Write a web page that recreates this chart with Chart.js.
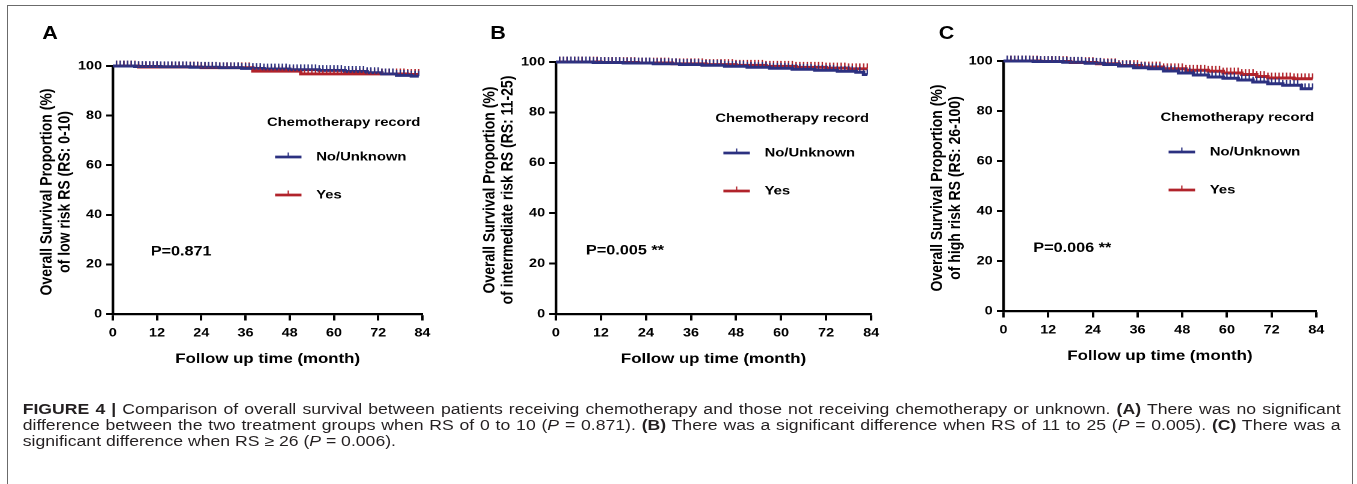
<!DOCTYPE html>
<html>
<head>
<meta charset="utf-8">
<script src="https://cdn.jsdelivr.net/npm/chart.js@4.4.1/dist/chart.umd.min.js"></script>
<style>
html,body{margin:0;padding:0;background:#fff;width:1357px;height:484px;overflow:hidden;}
#frame{position:absolute;left:7px;top:5px;width:1346px;height:560px;border:1.5px solid #6b6b6b;box-sizing:border-box;}
#fig{position:absolute;left:0;top:0;width:1130.83px;height:484px;transform:scaleX(1.2);transform-origin:0 0;font-family:"Liberation Sans",Arial,Helvetica,sans-serif;}
.pc{position:absolute;top:0;}
.letter{position:absolute;font-weight:bold;font-size:18px;line-height:18px;color:#000;transform:translate(-50%,-50%);z-index:5;}
#caption{position:absolute;left:18.9px;top:400.5px;width:1098.3px;font-size:14.7px;line-height:16.3px;color:#231f20;}
#caption .j{text-align:justify;text-align-last:justify;}
#caption b{font-weight:bold;}
</style>
</head>
<body>
<div id="frame"></div>
<div id="fig">
  <div class="letter" id="LA" style="left:41.7px;top:33px;"></div>
  <div class="letter" id="LB" style="left:415px;top:33px;"></div>
  <div class="letter" id="LC" style="left:788.9px;top:33px;"></div>
  <canvas id="cA" class="pc"></canvas>
  <canvas id="cB" class="pc"></canvas>
  <canvas id="cC" class="pc"></canvas>
  <div id="caption">
    <div class="j"><b>FIGURE 4 |</b> Comparison of overall survival between patients receiving chemotherapy and those not receiving chemotherapy or unknown. <b>(A)</b> There was no significant</div>
    <div class="j">difference between the two treatment groups when RS of 0 to 10 (<i>P</i> = 0.871). <b>(B)</b> There was a significant difference when RS of 11 to 25 (<i>P</i> = 0.005). <b>(C)</b> There was a</div>
    <div>significant difference when RS ≥ 26 (<i>P</i> = 0.006).</div>
  </div>
</div>
<script>
// ---------------- data ----------------
const months = [0,1,2,3,4,5,6,7,8,9,10,11,12,13,14,15,16,17,18,19,20,21,22,23,24,25,26,27,28,29,
30,31,32,33,34,35,36,37,38,39,40,41,42,43,44,45,46,47,48,49,50,51,52,53,54,55,56,57,58,59,
60,61,62,63,64,65,66,67,68,69,70,71,72,73,74,75,76,77,78,79,80,81,82,83];
const xTicks = [0,12,24,36,48,60,72,84];
const yTicks = [0,20,40,60,80,100];
const seriesNames = ['No/Unknown','Yes'];
const legendTitle = 'Chemotherapy record';
const panelLetters = ['A','B','C'];
const xTitle = 'Follow up time (month)';
const yTitles = [
  ['Overall Survival Proportion (%)','of low risk RS (RS: 0-10)'],
  ['Overall Survival Proportion (%)','of intermediate risk RS (RS: 11-25)'],
  ['Overall Survival Proportion (%)','of high risk RS (RS: 26-100)']
];
const pLabels = ['P=0.871','P=0.005 **','P=0.006 **'];

// Panel A (RS 0-10)
const aNoUnknown = [
100,100,100,100,100,100,
99.8,99.8,99.8,99.8,99.8,99.8,99.8,
99.7,99.7,99.7,99.7,99.7,99.7,99.7,99.7,
99.5,99.5,99.5,99.5,99.5,99.5,99.5,99.5,
99.3,99.3,99.3,99.3,99.3,99.3,
99.0,99.0,99.0,99.0,99.0,99.0,
98.8,98.8,98.8,98.8,98.8,98.8,98.8,
98.5,98.5,98.5,98.5,98.5,98.5,98.5,98.5,
98.2,98.2,98.2,98.2,98.2,98.2,98.2,
97.8,97.8,97.8,97.8,97.8,97.8,
97.3,97.3,97.3,97.3,
96.8,96.8,96.8,96.8,
96.2,96.2,96.2,96.2,
95.9,95.9,95.9];
const aYes = [
100,100,100,100,100,100,100,
99.6,99.6,99.6,99.6,99.6,99.6,99.6,99.6,99.6,99.6,99.6,99.6,99.6,99.6,99.6,99.6,99.6,
99.3,99.3,99.3,99.3,99.3,99.3,99.3,99.3,99.3,99.3,99.3,99.3,99.3,99.3,
97.9,97.9,97.9,97.9,97.9,97.9,97.9,97.9,97.9,97.9,97.9,97.9,97.9,
96.8,96.8,96.8,96.8,96.8,96.8,96.8,96.8,96.8,96.8,96.8,96.8,96.8,96.8,96.8,
96.8,96.8,96.8,96.8,96.8,96.8,96.8,96.8,96.8,96.8,96.8,96.8,96.8,96.8,
96.6,96.6,96.6,96.6];

// Panel B (RS 11-25)
const bNoUnknown = [
100,100,100,100,100,100,100,100,100,100,
99.8,99.8,99.8,99.8,99.8,99.8,99.8,99.8,
99.6,99.6,99.6,99.6,99.6,99.6,99.6,99.6,
99.3,99.3,99.3,99.3,99.3,99.3,99.3,
99.0,99.0,99.0,99.0,99.0,99.0,
98.7,98.7,98.7,98.7,98.7,98.7,
98.3,98.3,98.3,98.3,98.3,98.3,
97.9,97.9,97.9,97.9,97.9,97.9,
97.5,97.5,97.5,97.5,97.5,97.5,
97.1,97.1,97.1,97.1,97.1,97.1,
96.7,96.7,96.7,96.7,96.7,96.7,
96.3,96.3,96.3,96.3,96.3,
95.9,95.9,
95.0,95.0];
const bYes = [
100,100,100,100,100,100,100,100,100,100,100,100,
99.8,99.8,99.8,99.8,99.8,99.8,99.8,99.8,99.8,99.8,
99.6,99.6,99.6,99.6,99.6,99.6,99.6,99.6,99.6,
99.3,99.3,99.3,99.3,99.3,99.3,99.3,99.3,99.3,
99.0,99.0,99.0,99.0,99.0,99.0,99.0,99.0,
98.7,98.7,98.7,98.7,98.7,98.7,98.7,98.7,
98.3,98.3,98.3,98.3,98.3,98.3,98.3,98.3,
97.9,97.9,97.9,97.9,97.9,97.9,97.9,97.9,
97.6,97.6,97.6,97.6,97.6,97.6,
97.3,97.3,97.3,97.3,97.3,97.3];

// Panel C (RS 26-100)
const cNoUnknown = [
100,100,100,100,100,100,100,100,
99.8,99.8,99.8,99.8,99.8,99.8,99.8,99.8,
99.5,99.5,99.5,99.5,99.5,99.5,
99.1,99.1,99.1,99.1,99.1,
98.6,98.6,98.6,98.6,
98.0,98.0,98.0,98.0,
97.3,97.3,97.3,97.3,
96.9,96.9,96.9,96.9,
96.0,96.0,96.0,96.0,
95.2,95.2,95.2,95.2,
94.4,94.4,94.4,94.4,
93.6,93.6,93.6,93.6,
93.1,93.1,93.1,93.1,
92.4,92.4,92.4,92.4,
91.6,91.6,91.6,91.6,
90.9,90.9,90.9,90.9,
90.3,90.3,90.3,90.3,90.3,
88.9,88.9,88.9,88.9];
const cYes = [
100,100,100,100,100,100,100,100,100,100,
99.8,99.8,99.8,99.8,99.8,99.8,99.8,99.8,
99.4,99.4,99.4,99.4,99.4,99.4,99.4,
98.9,98.9,98.9,98.9,98.9,98.9,
98.2,98.2,98.2,98.2,98.2,98.2,
97.6,97.6,97.6,97.6,97.6,97.6,
96.9,96.9,96.9,96.9,96.9,96.9,
96.3,96.3,96.3,96.3,96.3,96.3,
95.9,95.9,95.9,95.9,
95.2,95.2,95.2,95.2,95.2,
94.6,94.6,94.6,94.6,
93.8,93.8,93.8,
93.2,93.2,93.2,93.2,93.2,93.2,93.2,
92.9,92.9,92.9,92.9,92.9,92.9];

const panelSeries = [[aNoUnknown, aYes],[bNoUnknown, bYes],[cNoUnknown, cYes]];
const pTextMonth = [10.3, 8.0, 8.0];
const pTextValue = 25;

// ---------------- styling / layout ----------------
const FONT = '"Liberation Sans", Arial, Helvetica, sans-serif';
const colors = ['#2c3180', '#b1232b'];
const areas = [ // virtual (pre-scaleX) chart-area boxes
  {L:94.2, R:352.5, T:66, B:314},
  {L:463.3, R:725.8, T:62, B:314},
  {L:836.1, R:1096.7, T:61, B:311}
];
const YW = 90, XH = 40, PADR = 30, CH = 400;

const censorTicks = {
  id: 'censorTicks',
  afterDatasetsDraw(chart) {
    const ctx = chart.ctx;
    ctx.save();
    for (let d = chart.data.datasets.length - 1; d >= 0; d--) {
      const meta = chart.getDatasetMeta(d);
      ctx.strokeStyle = chart.data.datasets[d].borderColor;
      ctx.lineWidth = 1.2;
      ctx.beginPath();
      for (let i = 1; i < meta.data.length; i++) {
        const p = meta.data[i];
        ctx.moveTo(p.x, p.y);
        ctx.lineTo(p.x, p.y - 5.4);
      }
      ctx.stroke();
    }
    ctx.restore();
  }
};

const panelText = {
  id: 'panelText',
  afterDraw(chart, args, o) {
    const {ctx, chartArea: ca, scales} = chart;
    ctx.save();
    ctx.fillStyle = '#000';
    ctx.textBaseline = 'middle';
    // y-axis title (two lines)
    ctx.font = 'bold 14px ' + FONT;
    ctx.textAlign = 'center';
    const cy = (ca.top + ca.bottom) / 2 + 2;
    o.yTitle.forEach((t, i) => {
      ctx.save();
      ctx.translate(ca.left - 54.8 + i * 14.75, cy);
      ctx.rotate(-Math.PI / 2);
      ctx.fillText(t, 0, 0);
      ctx.restore();
    });
    // x-axis title
    ctx.fillText(xTitle, (ca.left + ca.right) / 2, ca.bottom + 45);
    // legend
    ctx.font = 'bold 12.3px ' + FONT;
    ctx.textAlign = 'right';
    const tr = ca.right - 1.7;
    ctx.fillText(legendTitle, tr, ca.top + 56.5);
    const tl = tr - ctx.measureText(legendTitle).width;
    chart.data.datasets.forEach((ds, i) => {
      const y = ca.top + 91 + i * 38;
      ctx.strokeStyle = ds.borderColor;
      ctx.lineWidth = 2.8;
      ctx.beginPath(); ctx.moveTo(tl + 6.7, y); ctx.lineTo(tl + 28.7, y); ctx.stroke();
      ctx.lineWidth = 1.1;
      ctx.beginPath(); ctx.moveTo(tl + 17.7, y); ctx.lineTo(tl + 17.7, y - 4.5); ctx.stroke();
      ctx.textAlign = 'left';
      ctx.fillText(ds.label, tl + 41, y);
    });
    // P value
    ctx.font = 'bold 13.5px ' + FONT;
    ctx.textAlign = 'left';
    ctx.fillText(o.pText, scales.x.getPixelForValue(o.pX), scales.y.getPixelForValue(pTextValue));
    ctx.restore();
  }
};

const canvasIds = ['cA','cB','cC'];
const letterIds = ['LA','LB','LC'];

panelSeries.forEach((pair, k) => {
  document.getElementById(letterIds[k]).textContent = panelLetters[k];
  const a = areas[k];
  const cv = document.getElementById(canvasIds[k]);
  const left = a.L - YW;
  const w = a.R + PADR - left;
  cv.style.left = left + 'px';
  cv.style.width = w + 'px';
  cv.style.height = CH + 'px';
  cv.width = w; cv.height = CH;

  const datasets = pair.map((vals, s) => ({
    label: seriesNames[s],
    data: months.map((m, i) => ({x: m, y: vals[i]})),
    borderColor: colors[s],
    backgroundColor: colors[s],
    borderWidth: 2.9,
    stepped: true,
    pointRadius: 0,
    fill: false,
    clip: false
  }));

  new Chart(cv, {
    type: 'line',
    data: {datasets},
    plugins: [censorTicks, panelText],
    options: {
      responsive: false,
      devicePixelRatio: 2,
      animation: false,
      events: [],
      layout: {padding: {left: 0, right: PADR, top: a.T, bottom: CH - a.B - XH}},
      plugins: {
        legend: {display: false},
        tooltip: {enabled: false},
        panelText: {yTitle: yTitles[k], pText: pLabels[k], pX: pTextMonth[k]}
      },
      scales: {
        x: {
          type: 'linear', min: 0, max: 84,
          afterBuildTicks: sc => { sc.ticks = xTicks.map(v => ({value: v})); },
          afterFit: sc => { sc.height = XH; },
          ticks: {autoSkip: false, maxRotation: 0, padding: 5.5, color: '#000',
                  font: {family: FONT, size: 12, weight: 'bold'}},
          grid: {drawOnChartArea: false, drawTicks: true, tickLength: 6.5, tickWidth: 2, tickColor: '#000'},
          border: {display: true, color: '#000', width: 2.2}
        },
        y: {
          type: 'linear', min: 0, max: 100,
          afterBuildTicks: sc => { sc.ticks = yTicks.map(v => ({value: v})); },
          afterFit: sc => { sc.width = YW; },
          ticks: {padding: 3.5, color: '#000',
                  font: {family: FONT, size: 12, weight: 'bold'}},
          grid: {drawOnChartArea: false, drawTicks: true, tickLength: 5.5, tickWidth: 2, tickColor: '#000'},
          border: {display: true, color: '#000', width: 2.2}
        }
      }
    }
  });
});
</script>
</body>
</html>
